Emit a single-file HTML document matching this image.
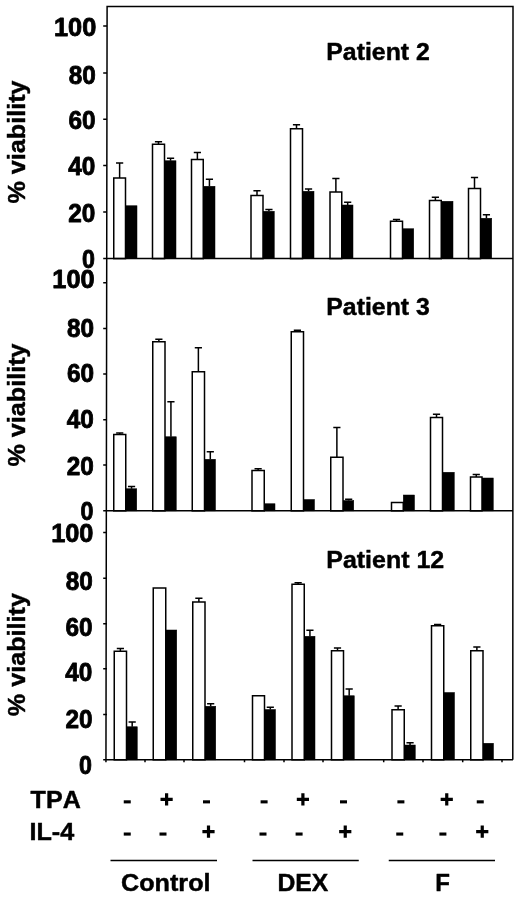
<!DOCTYPE html>
<html><head><meta charset="utf-8"><title>Viability chart</title>
<style>html,body{margin:0;padding:0;background:#fff}body{width:520px;height:897px;overflow:hidden}svg{display:block;filter:grayscale(1)}text{font-family:"Liberation Sans",sans-serif;font-weight:bold;font-size:24px;fill:#000;font-kerning:none;stroke:#000;stroke-width:0.45px;stroke-linejoin:round}text.k{stroke-width:0.8px}.l{stroke:#000;stroke-width:1.5;fill:none}.w{fill:#fff;stroke:#000;stroke-width:1.5}.b{fill:#000;stroke:#000;stroke-width:0.5}</style></head><body>
<svg width="520" height="897" viewBox="0 0 520 897">
<rect x="0" y="0" width="520" height="897" fill="#fff"/>
<rect class="b" x="125.50" y="205.75" width="11.50" height="52.85"/>
<path class="l" d="M119.62 178.00V163.00M116.03 163.00H123.22"/>
<rect class="w" x="113.75" y="178.00" width="11.75" height="80.60"/>
<rect class="b" x="164.50" y="160.75" width="11.50" height="97.85"/>
<path class="l" d="M170.55 160.75V158.25M166.95 158.25H174.15"/>
<path class="l" d="M158.50 144.25V141.75M154.90 141.75H162.10"/>
<rect class="w" x="152.50" y="144.25" width="12.00" height="114.35"/>
<rect class="b" x="203.25" y="186.25" width="11.75" height="72.35"/>
<path class="l" d="M209.43 186.25V179.25M205.83 179.25H213.03"/>
<path class="l" d="M197.38 159.50V152.50M193.78 152.50H200.97"/>
<rect class="w" x="191.50" y="159.50" width="11.75" height="99.10"/>
<rect class="b" x="263.00" y="211.25" width="11.25" height="47.35"/>
<path class="l" d="M268.93 211.25V209.50M265.32 209.50H272.53"/>
<path class="l" d="M257.00 195.50V190.75M253.40 190.75H260.60"/>
<rect class="w" x="251.00" y="195.50" width="12.00" height="63.10"/>
<rect class="b" x="302.50" y="191.25" width="11.50" height="67.35"/>
<path class="l" d="M308.55 191.25V189.00M304.95 189.00H312.15"/>
<path class="l" d="M296.50 128.75V124.75M292.90 124.75H300.10"/>
<rect class="w" x="290.50" y="128.75" width="12.00" height="129.85"/>
<rect class="b" x="341.75" y="205.00" width="11.25" height="53.60"/>
<path class="l" d="M347.68 205.00V202.25M344.07 202.25H351.28"/>
<path class="l" d="M335.88 192.00V178.50M332.27 178.50H339.48"/>
<rect class="w" x="330.00" y="192.00" width="11.75" height="66.60"/>
<rect class="b" x="402.50" y="228.75" width="11.25" height="29.85"/>
<path class="l" d="M396.50 221.25V219.50M392.90 219.50H400.10"/>
<rect class="w" x="390.50" y="221.25" width="12.00" height="37.35"/>
<rect class="b" x="441.25" y="201.25" width="11.75" height="57.35"/>
<path class="l" d="M435.38 200.50V197.25M431.77 197.25H438.98"/>
<rect class="w" x="429.50" y="200.50" width="11.75" height="58.10"/>
<rect class="b" x="480.50" y="218.25" width="11.25" height="40.35"/>
<path class="l" d="M486.43 218.25V214.75M482.82 214.75H490.03"/>
<path class="l" d="M474.50 188.50V177.50M470.90 177.50H478.10"/>
<rect class="w" x="468.50" y="188.50" width="12.00" height="70.10"/>
<path class="l" d="M103.20 258.60H513.00"/>
<path class="l" d="M103.20 26.10H107.00M103.20 73.00H107.00M103.20 119.20H107.00M103.20 165.40H107.00M103.20 212.00H107.00"/>
<text class="k" transform="translate(96.25 35.70) scale(1.055 1.065)" text-anchor="end">100</text>
<text class="k" transform="translate(95.90 83.85) scale(1.015 1.065)" text-anchor="end">80</text>
<text class="k" transform="translate(95.60 129.10) scale(1.015 1.065)" text-anchor="end">60</text>
<text class="k" transform="translate(95.25 174.50) scale(1.015 1.065)" text-anchor="end">40</text>
<text class="k" transform="translate(95.25 222.00) scale(1.015 1.065)" text-anchor="end">20</text>
<text class="k" transform="translate(95.00 267.60) scale(0.97 1.065)" text-anchor="end">0</text>
<rect class="b" x="125.75" y="488.75" width="11.00" height="22.10"/>
<path class="l" d="M131.55 488.75V486.50M127.95 486.50H135.15"/>
<path class="l" d="M119.75 434.50V433.00M116.15 433.00H123.35"/>
<rect class="w" x="113.75" y="434.50" width="12.00" height="76.35"/>
<rect class="b" x="165.00" y="436.75" width="11.25" height="74.10"/>
<path class="l" d="M170.93 436.75V401.75M167.33 401.75H174.53"/>
<path class="l" d="M158.88 341.75V339.25M155.28 339.25H162.47"/>
<rect class="w" x="152.75" y="341.75" width="12.25" height="169.10"/>
<rect class="b" x="204.50" y="459.25" width="11.00" height="51.60"/>
<path class="l" d="M210.30 459.25V451.75M206.70 451.75H213.90"/>
<path class="l" d="M198.38 371.75V347.75M194.78 347.75H201.97"/>
<rect class="w" x="192.25" y="371.75" width="12.25" height="139.10"/>
<rect class="b" x="264.25" y="503.75" width="10.75" height="7.10"/>
<path class="l" d="M258.12 470.50V468.75M254.53 468.75H261.73"/>
<rect class="w" x="252.00" y="470.50" width="12.25" height="40.35"/>
<rect class="b" x="303.50" y="499.50" width="11.00" height="11.35"/>
<path class="l" d="M297.38 331.75V330.25M293.77 330.25H300.98"/>
<rect class="w" x="291.25" y="331.75" width="12.25" height="179.10"/>
<rect class="b" x="343.00" y="500.50" width="10.75" height="10.35"/>
<path class="l" d="M348.68 500.50V499.25M345.07 499.25H352.28"/>
<path class="l" d="M336.88 457.25V427.50M333.27 427.50H340.48"/>
<rect class="w" x="330.75" y="457.25" width="12.25" height="53.60"/>
<rect class="b" x="403.25" y="495.00" width="11.25" height="15.85"/>
<rect class="w" x="391.50" y="502.50" width="11.75" height="8.35"/>
<rect class="b" x="442.50" y="472.25" width="11.75" height="38.60"/>
<path class="l" d="M436.50 417.50V414.25M432.90 414.25H440.10"/>
<rect class="w" x="430.50" y="417.50" width="12.00" height="93.35"/>
<rect class="b" x="482.00" y="478.00" width="11.25" height="32.85"/>
<path class="l" d="M476.25 477.00V474.50M472.65 474.50H479.85"/>
<rect class="w" x="470.50" y="477.00" width="11.50" height="33.85"/>
<path class="l" d="M103.20 510.85H513.00"/>
<path class="l" d="M103.20 282.70H107.00M103.20 328.50H107.00M103.20 374.10H107.00M103.20 419.70H107.00M103.20 465.00H107.00"/>
<text class="k" transform="translate(94.60 288.35) scale(1.055 1.065)" text-anchor="end">100</text>
<text class="k" transform="translate(94.10 336.85) scale(1.015 1.065)" text-anchor="end">80</text>
<text class="k" transform="translate(94.00 382.10) scale(1.015 1.065)" text-anchor="end">60</text>
<text class="k" transform="translate(93.75 427.50) scale(1.015 1.065)" text-anchor="end">40</text>
<text class="k" transform="translate(93.75 475.20) scale(1.015 1.065)" text-anchor="end">20</text>
<text class="k" transform="translate(93.50 520.20) scale(0.97 1.065)" text-anchor="end">0</text>
<rect class="b" x="126.50" y="726.75" width="10.75" height="33.10"/>
<path class="l" d="M132.18 726.75V722.00M128.58 722.00H135.78"/>
<path class="l" d="M120.38 651.25V648.50M116.78 648.50H123.97"/>
<rect class="w" x="114.25" y="651.25" width="12.25" height="108.60"/>
<rect class="b" x="165.75" y="630.00" width="11.00" height="129.85"/>
<rect class="w" x="153.25" y="588.00" width="12.50" height="171.85"/>
<rect class="b" x="205.00" y="706.25" width="10.75" height="53.60"/>
<path class="l" d="M210.68 706.25V703.75M207.08 703.75H214.28"/>
<path class="l" d="M198.88 602.00V598.25M195.28 598.25H202.47"/>
<rect class="w" x="192.75" y="602.00" width="12.25" height="157.85"/>
<rect class="b" x="264.50" y="709.50" width="11.00" height="50.35"/>
<path class="l" d="M270.30 709.50V707.25M266.70 707.25H273.90"/>
<rect class="w" x="252.50" y="695.75" width="12.00" height="64.10"/>
<rect class="b" x="304.25" y="636.25" width="10.75" height="123.60"/>
<path class="l" d="M309.93 636.25V630.25M306.32 630.25H313.53"/>
<path class="l" d="M298.12 584.25V582.75M294.52 582.75H301.73"/>
<rect class="w" x="292.00" y="584.25" width="12.25" height="175.60"/>
<rect class="b" x="343.50" y="695.75" width="10.75" height="64.10"/>
<path class="l" d="M349.18 695.75V689.00M345.57 689.00H352.78"/>
<path class="l" d="M337.50 650.75V648.00M333.90 648.00H341.10"/>
<rect class="w" x="331.50" y="650.75" width="12.00" height="109.10"/>
<rect class="b" x="404.25" y="745.00" width="11.00" height="14.85"/>
<path class="l" d="M410.05 745.00V742.75M406.45 742.75H413.65"/>
<path class="l" d="M398.12 709.75V706.00M394.52 706.00H401.73"/>
<rect class="w" x="392.00" y="709.75" width="12.25" height="50.10"/>
<rect class="b" x="443.75" y="692.50" width="10.75" height="67.35"/>
<path class="l" d="M437.62 625.75V624.50M434.02 624.50H441.23"/>
<rect class="w" x="431.50" y="625.75" width="12.25" height="134.10"/>
<rect class="b" x="483.00" y="743.25" width="10.50" height="16.60"/>
<path class="l" d="M476.88 650.75V647.00M473.27 647.00H480.48"/>
<rect class="w" x="470.75" y="650.75" width="12.25" height="109.10"/>
<path class="l" d="M103.20 759.85H513.00"/>
<path class="l" d="M103.20 532.40H107.00M103.20 578.20H107.00M103.20 623.70H107.00M103.20 668.80H107.00M103.20 714.40H107.00"/>
<text class="k" transform="translate(93.40 542.00) scale(1.055 1.065)" text-anchor="end">100</text>
<text class="k" transform="translate(92.90 590.10) scale(1.015 1.065)" text-anchor="end">80</text>
<text class="k" transform="translate(92.50 635.70) scale(1.015 1.065)" text-anchor="end">60</text>
<text class="k" transform="translate(92.25 681.35) scale(1.015 1.065)" text-anchor="end">40</text>
<text class="k" transform="translate(92.50 728.20) scale(1.015 1.065)" text-anchor="end">20</text>
<text class="k" transform="translate(91.90 774.10) scale(0.97 1.065)" text-anchor="end">0</text>
<path class="l" d="M105.95 762.35L107.1 6.5H513.0L512.80 759.85"/>
<path class="l" d="M145.00 759.85v2.5M184.00 759.85v2.5M244.50 759.85v2.5M284.00 759.85v2.5M323.00 759.85v2.5M383.70 759.85v2.5M423.00 759.85v2.5M462.70 759.85v2.5M502.00 759.85v2.5"/>
<text transform="translate(326.30 59.70) scale(1.035 1)">Patient 2</text>
<text transform="translate(326.30 314.70) scale(1.035 1)">Patient 3</text>
<text transform="translate(326.30 568.00) scale(1.04 1)">Patient 12</text>
<text transform="translate(24.80 142.00) rotate(-90) scale(1.05 1)" text-anchor="middle">% viability</text>
<text transform="translate(24.80 405.00) rotate(-90) scale(1.05 1)" text-anchor="middle">% viability</text>
<text transform="translate(24.80 654.60) rotate(-90) scale(1.05 1)" text-anchor="middle">% viability</text>
<text transform="translate(30.60 808.20) scale(1.045 1)">TPA</text>
<text transform="translate(29.40 840.40) scale(1.05 1)">IL-4</text>
<rect x="123.75" y="800.30" width="7" height="3.1" fill="#000"/>
<path d="M160.50 799.40h12.2M166.60 793.30v12.2" stroke="#000" stroke-width="3.2" fill="none"/>
<rect x="203.00" y="800.30" width="7" height="3.1" fill="#000"/>
<rect x="260.60" y="800.30" width="7" height="3.1" fill="#000"/>
<path d="M296.80 799.40h12.2M302.90 793.30v12.2" stroke="#000" stroke-width="3.2" fill="none"/>
<rect x="340.00" y="800.30" width="7" height="3.1" fill="#000"/>
<rect x="397.40" y="800.30" width="7" height="3.1" fill="#000"/>
<path d="M440.65 799.40h12.2M446.75 793.30v12.2" stroke="#000" stroke-width="3.2" fill="none"/>
<rect x="476.75" y="800.30" width="7" height="3.1" fill="#000"/>
<rect x="123.75" y="832.50" width="7" height="3.1" fill="#000"/>
<rect x="159.50" y="832.50" width="7" height="3.1" fill="#000"/>
<path d="M202.40 831.60h12.2M208.50 825.50v12.2" stroke="#000" stroke-width="3.2" fill="none"/>
<rect x="259.50" y="832.50" width="7" height="3.1" fill="#000"/>
<rect x="295.60" y="832.50" width="7" height="3.1" fill="#000"/>
<path d="M339.15 831.60h12.2M345.25 825.50v12.2" stroke="#000" stroke-width="3.2" fill="none"/>
<rect x="396.25" y="832.50" width="7" height="3.1" fill="#000"/>
<rect x="439.40" y="832.50" width="7" height="3.1" fill="#000"/>
<path d="M476.15 831.60h12.2M482.25 825.50v12.2" stroke="#000" stroke-width="3.2" fill="none"/>
<path class="l" d="M110.5 860.5H217M252.5 860.5H358.75M388.75 860.5H495"/>
<text transform="translate(165.80 890.80) scale(1.05 1)" text-anchor="middle">Control</text>
<text transform="translate(302.80 890.80) scale(1.03 1)" text-anchor="middle">DEX</text>
<text transform="translate(442.50 890.80) scale(1.0 1)" text-anchor="middle">F</text>
</svg></body></html>
